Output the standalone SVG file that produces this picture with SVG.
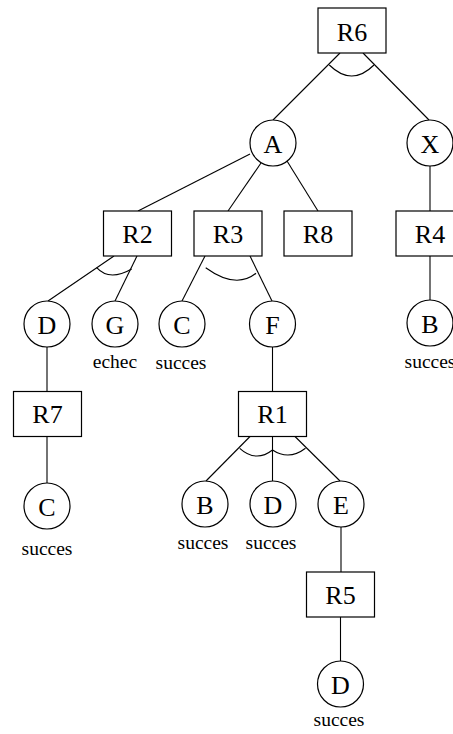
<svg xmlns="http://www.w3.org/2000/svg" width="453" height="734" viewBox="0 0 453 734">
<style>
.n rect, .n circle { fill: #fff; stroke: #000; stroke-width: 1.2; }
.n text { font-family: "Liberation Serif", serif; font-size: 26px; text-anchor: middle; fill: #000; }
.n text.s { font-size: 19.5px; }
#edges line, #edges path { stroke: #000; stroke-width: 1.1; fill: none; }
</style>
<rect width="453" height="734" fill="#fff"/>
<g id="edges">
<line x1="340" y1="53" x2="273" y2="120"/>
<line x1="363" y1="53" x2="429" y2="120"/>
<path d="M329.3,65 Q351.7,87 374,65"/>
<line x1="430" y1="166" x2="430" y2="211"/>
<line x1="430" y1="256" x2="430" y2="300"/>
<line x1="250" y1="154" x2="138" y2="211"/>
<line x1="261" y1="163" x2="228" y2="211"/>
<line x1="287" y1="161" x2="318" y2="211"/>
<line x1="114" y1="256" x2="48" y2="301"/>
<line x1="137" y1="256" x2="115" y2="301"/>
<path d="M96.7,267.7 Q109.3,281.7 131.7,269"/>
<line x1="205" y1="256" x2="182" y2="301"/>
<line x1="250" y1="256" x2="272" y2="301"/>
<path d="M205.7,267.7 Q235.8,289.5 256,273.3"/>
<line x1="47" y1="347" x2="47" y2="391.5"/>
<line x1="47" y1="436.5" x2="47" y2="483"/>
<line x1="272.5" y1="347" x2="272.5" y2="391.5"/>
<line x1="250" y1="436.5" x2="206" y2="481"/>
<line x1="272.5" y1="436.5" x2="272.5" y2="481"/>
<line x1="295" y1="436.5" x2="340" y2="481"/>
<path d="M239.7,448.3 Q256,462.9 272.5,450"/>
<path d="M272.5,450 Q289,460.9 305.5,448.3"/>
<line x1="341" y1="527" x2="341" y2="572"/>
<line x1="340.5" y1="617" x2="340.5" y2="661"/>
</g>
<g id="R6" class="n"><rect x="318" y="8" width="68" height="45"/><text x="352" y="41">R6</text></g>
<g id="A" class="n"><circle cx="273" cy="143" r="23"/><text x="273" y="153">A</text></g>
<g id="X" class="n"><circle cx="430" cy="143" r="23"/><text x="430" y="153">X</text></g>
<g id="R2" class="n"><rect x="103.5" y="211" width="68" height="45"/><text x="137.5" y="243">R2</text></g>
<g id="R3" class="n"><rect x="194" y="211" width="68" height="45"/><text x="228" y="243">R3</text></g>
<g id="R8" class="n"><rect x="284" y="211" width="68" height="45"/><text x="318" y="243">R8</text></g>
<g id="R4" class="n"><rect x="396" y="211" width="68" height="45"/><text x="430" y="243">R4</text></g>
<g id="D1" class="n"><circle cx="47" cy="324" r="23"/><text x="47" y="334">D</text></g>
<g id="G" class="n"><circle cx="115" cy="324" r="23"/><text x="115" y="334">G</text><text class="s" x="115" y="368">echec</text></g>
<g id="C1" class="n"><circle cx="182" cy="324" r="23"/><text x="182" y="334">C</text><text class="s" x="181" y="369">succes</text></g>
<g id="F" class="n"><circle cx="272.5" cy="324" r="23"/><text x="272.5" y="334">F</text></g>
<g id="B1" class="n"><circle cx="430" cy="323" r="23"/><text x="430" y="333">B</text><text class="s" x="430" y="368">succes</text></g>
<g id="R7" class="n"><rect x="13.5" y="391.5" width="68" height="45"/><text x="47.5" y="423">R7</text></g>
<g id="R1" class="n"><rect x="238.5" y="391.5" width="68" height="45"/><text x="272.5" y="423">R1</text></g>
<g id="C2" class="n"><circle cx="47" cy="506" r="23"/><text x="47" y="516">C</text><text class="s" x="47" y="555">succes</text></g>
<g id="B2" class="n"><circle cx="205" cy="504" r="23"/><text x="205" y="514">B</text><text class="s" x="203" y="549">succes</text></g>
<g id="D2" class="n"><circle cx="273" cy="504" r="23"/><text x="273" y="514">D</text><text class="s" x="271" y="549">succes</text></g>
<g id="E" class="n"><circle cx="341" cy="504" r="23"/><text x="341" y="514">E</text></g>
<g id="R5" class="n"><rect x="306.5" y="572" width="68" height="45"/><text x="340.5" y="604">R5</text></g>
<g id="D3" class="n"><circle cx="340.5" cy="684" r="23"/><text x="340.5" y="694">D</text><text class="s" x="339" y="726">succes</text></g>
</svg>
